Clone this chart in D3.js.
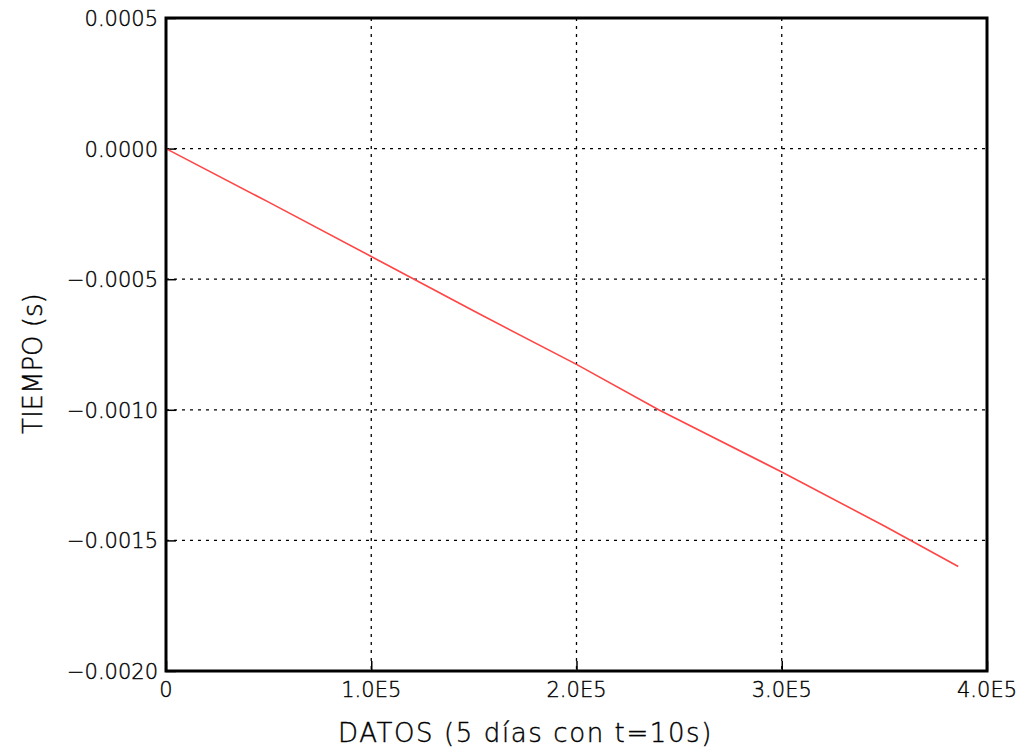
<!DOCTYPE html>
<html>
<head>
<meta charset="utf-8">
<script src="https://cdn.jsdelivr.net/npm/d3@7"></script>
<style>
  body { margin: 0; background: #fff; }
  text { font-family: "DejaVu Sans", sans-serif; font-weight: 200; fill: #000; stroke: #000; stroke-width: 0.4; }
</style>
</head>
<body>
<div id="content"></div>
<script>
// Values
var datos  = [0, 50000, 100000, 150000, 200000, 240000, 300000, 350000, 386000];
var tiempo = [0, -0.000205, -0.000413, -0.000622, -0.000826, -0.001, -0.001238, -0.001445, -0.0016];
var xTicks = [0, 100000, 200000, 300000, 400000];
var xTickLabels = ['0', '1.0E5', '2.0E5', '3.0E5', '4.0E5'];
var yTicks = [0.0005, 0, -0.0005, -0.0010, -0.0015, -0.0020];
var yTickLabels = ['0.0005', '0.0000', '\u22120.0005', '\u22120.0010', '\u22120.0015', '\u22120.0020'];

var svg = d3.select('#content').append('svg')
    .attr('width', 1028)
    .attr('height', 755);

var plotL = 166, plotR = 987, plotT = 18, plotB = 671;

var x = d3.scaleLinear().domain([0, 400000]).range([plotL, plotR]);
var y = d3.scaleLinear().domain([-0.0020, 0.0005]).range([plotB, plotT]);

// dotted grid, only inner lines
svg.selectAll('line.gx')
    .data(xTicks.slice(1, -1))
    .enter().append('line')
    .attr('x1', x).attr('x2', x)
    .attr('y1', plotT).attr('y2', plotB)
    .attr('stroke', '#000').attr('stroke-width', 1.3)
    .attr('stroke-dasharray', '3,5');

svg.selectAll('line.gy')
    .data(yTicks.slice(1, -1))
    .enter().append('line')
    .attr('y1', y).attr('y2', y)
    .attr('x1', plotL).attr('x2', plotR)
    .attr('stroke', '#000').attr('stroke-width', 1.3)
    .attr('stroke-dasharray', '3,5');

// axes with inward ticks, labels drawn by hand for the odd format
var xAxis = d3.axisBottom(x).tickValues(xTicks).tickSizeInner(-10).tickSizeOuter(0).tickFormat('');
var yAxis = d3.axisLeft(y).tickValues(yTicks).tickSizeInner(-10).tickSizeOuter(0).tickFormat('');

svg.append('g').attr('transform', 'translate(0,' + plotB + ')').call(xAxis)
    .call(function(g) { g.select('.domain').remove(); })
    .selectAll('line').attr('stroke-width', 1.5);
svg.append('g').attr('transform', 'translate(' + plotL + ',0)').call(yAxis)
    .call(function(g) { g.select('.domain').remove(); })
    .selectAll('line').attr('stroke-width', 1.5);

svg.selectAll('text.xl')
    .data(xTicks)
    .enter().append('text')
    .attr('x', x)
    .attr('y', 697)
    .attr('text-anchor', 'middle')
    .attr('font-size', 21)
    .text(function(d, i) { return xTickLabels[i]; });

svg.selectAll('text.yl')
    .data(yTicks)
    .enter().append('text')
    .attr('x', 158)
    .attr('y', function(d) { return y(d) + 8; })
    .attr('text-anchor', 'end')
    .attr('font-size', 21)
    .text(function(d, i) { return yTickLabels[i]; });

// the data line
var line = d3.line()
    .x(function(d, i) { return x(datos[i]); })
    .y(function(d) { return y(d); });

svg.append('path')
    .datum(tiempo)
    .attr('d', line)
    .attr('fill', 'none')
    .attr('stroke', '#ff4545')
    .attr('stroke-width', 1.6);

// frame
svg.append('rect')
    .attr('x', plotL).attr('y', plotT)
    .attr('width', plotR - plotL).attr('height', plotB - plotT)
    .attr('fill', 'none')
    .attr('stroke', '#000')
    .attr('stroke-width', 3);

// axis titles
svg.append('text')
    .attr('x', 338)
    .attr('y', 742)
    .attr('font-size', 26)
    .attr('letter-spacing', 1.6)
    .text('DATOS (5 días con t=10s)');

svg.append('text')
    .attr('transform', 'translate(42,434) rotate(-90)')
    .attr('font-size', 26)
    .text('TIEMPO (s)');
</script>
</body>
</html>
